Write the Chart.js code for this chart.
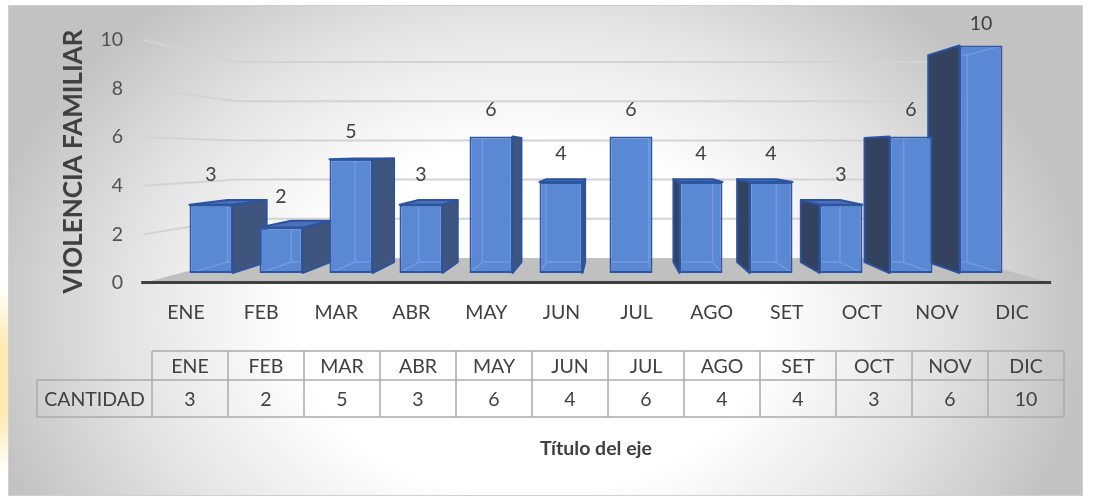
<!DOCTYPE html>
<html>
<head>
<meta charset="utf-8">
<script src="https://cdn.jsdelivr.net/npm/chart.js@4.4.1/dist/chart.umd.min.js"></script>
<style>
html,body{margin:0;padding:0;background:#ffffff;}
#wrap{width:1095px;height:500px;position:relative;}
canvas{display:block;}
</style>
</head>
<body>
<div id="wrap"><canvas id="c" width="1095" height="500"></canvas></div>
<script>
// ---------- DATA ----------
const categories = ['ENE','FEB','MAR','ABR','MAY','JUN','JUL','AGO','SET','OCT','NOV','DIC'];
const cantidad   = [3, 2, 5, 3, 6, 4, 6, 4, 4, 3, 6, 10];
const seriesName = 'CANTIDAD';
const yTickValues = [0, 2, 4, 6, 8, 10];
const yTitle = 'VIOLENCIA FAMILIAR';
const xTitle = 'Título del eje';

// ---------- STYLE / PERSPECTIVE CONSTANTS ----------
const FONT = 'Lato';
const TEXT = '#404040';
const VX = 612, VY = 152;     // vanishing point of the pseudo-3D view
const BAR_DEPTH = 0.09;       // depth of the bar boxes
const WALL_DEPTH = 0.2;       // depth of back wall relative to front plane
const FRONT_MIN = -0.57, FRONT_MAX = 11.52; // front plane extent in x2 units

function toBack(px, py, k){ return [px + k*(VX-px), py + k*(VY-py)]; }
function poly(ctx, pts){ ctx.beginPath(); ctx.moveTo(pts[0][0],pts[0][1]); for(let i=1;i<pts.length;i++) ctx.lineTo(pts[i][0],pts[i][1]); ctx.closePath(); }

const backgroundPlugin = {
  id:'bg',
  beforeDraw(chart){
    const ctx = chart.ctx;
    ctx.save();
    ctx.fillStyle = '#ffffff';
    ctx.fillRect(0,0,chart.width,chart.height);
    const yg = ctx.createLinearGradient(0,285,0,475);
    yg.addColorStop(0,'rgba(252,228,150,0)');
    yg.addColorStop(0.3,'rgba(252,222,130,0.6)');
    yg.addColorStop(0.7,'rgba(252,222,130,0.6)');
    yg.addColorStop(1,'rgba(252,228,150,0)');
    ctx.fillStyle = yg;
    ctx.fillRect(0,285,9,190);
    const cx = 530, cy = 320, rx = 560, ry = 420;
    ctx.save();
    ctx.translate(cx, cy);
    ctx.scale(1, ry/rx);
    const g = ctx.createRadialGradient(0,0,0,0,0,rx);
    g.addColorStop(0,'#ffffff');
    g.addColorStop(0.42,'#ffffff');
    g.addColorStop(0.72,'#e4e4e4');
    g.addColorStop(1,'#c2c2c2');
    ctx.fillStyle = g;
    ctx.fillRect(8-cx, (5-cy)*rx/ry, 1075, 491*rx/ry);
    ctx.restore();
    ctx.strokeStyle = '#d0d0d0';
    ctx.lineWidth = 1;
    ctx.strokeRect(8.5,5.5,1074,490);
    ctx.restore();
  }
};

const threeDPlugin = {
  id:'threeD',
  beforeDatasetsDraw(chart){
    const ctx = chart.ctx;
    const yt = chart.scales.yt, yb = chart.scales.yb, x2 = chart.scales.x2;
    const fl = x2.getPixelForValue(FRONT_MIN), fr = x2.getPixelForValue(FRONT_MAX);
    const f0 = yt.getPixelForValue(0);
    const bl = toBack(fl, f0, WALL_DEPTH)[0], br = toBack(fr, f0, WALL_DEPTH)[0];
    const b0 = yb.getPixelForValue(0);
    ctx.save();
    ctx.strokeStyle = '#d3d3d3';
    ctx.lineWidth = 2;
    yTickValues.forEach(v => {
      if (v === 0) return;
      const fy = yt.getPixelForValue(v), by = yb.getPixelForValue(v);
      ctx.beginPath();
      ctx.moveTo(fl, fy); ctx.lineTo(bl, by); ctx.lineTo(br, by);
      ctx.stroke();
    });
    ctx.fillStyle = '#c0c0c0';
    poly(ctx, [[fl,f0],[bl,b0],[br,b0],[fr,f0]]);
    ctx.fill();
    ctx.strokeStyle = '#3f3f3f';
    ctx.lineWidth = 3;
    ctx.beginPath(); ctx.moveTo(fl-2, f0-0.5); ctx.lineTo(fr, f0-0.5); ctx.stroke();

    const meta = chart.getDatasetMeta(0);
    const bars = meta.data.map(b => b.getProps(['x','y','base','width'], true));
    ctx.lineJoin = 'round';
    bars.forEach(p => {
      const L = p.x - p.width/2, R = p.x + p.width/2, T = p.y, B = p.base;
      let side = null, sideColor = '#40557e';
      if (R < VX) side = [[R,T], toBack(R,T,BAR_DEPTH), toBack(R,B,BAR_DEPTH), [R,B]];
      else if (L > VX) { side = [[L,T], toBack(L,T,BAR_DEPTH), toBack(L,B,BAR_DEPTH), [L,B]]; sideColor = '#33425f'; }
      if (side) {
        poly(ctx, side);
        ctx.fillStyle = sideColor;
        ctx.fill();
        ctx.strokeStyle = '#2c53a0';
        ctx.lineWidth = 2;
        ctx.stroke();
      }
      if (T > VY) {
        const top = [[L,T],[R,T],toBack(R,T,BAR_DEPTH),toBack(L,T,BAR_DEPTH)];
        poly(ctx, top);
        ctx.fillStyle = '#4b70b6';
        ctx.fill();
        ctx.strokeStyle = '#2c53a0';
        ctx.lineWidth = 2;
        ctx.stroke();
      }
    });
    ctx.restore();
  },
  afterDatasetsDraw(chart){
    const ctx = chart.ctx;
    const meta = chart.getDatasetMeta(0);
    ctx.save();
    meta.data.forEach((bar, i) => {
      const p = bar.getProps(['x','y','base','width'], true);
      const L = p.x - p.width/2, R = p.x + p.width/2, T = p.y, B = p.base;
      const bLT = toBack(L,T,BAR_DEPTH), bRT = toBack(R,T,BAR_DEPTH), bLB = toBack(L,B,BAR_DEPTH), bRB = toBack(R,B,BAR_DEPTH);
      ctx.save();
      ctx.beginPath(); ctx.rect(L+2, T+2, R-L-4, B-T-4); ctx.clip();
      ctx.strokeStyle = 'rgba(120,160,230,0.75)';
      ctx.lineWidth = 1.5;
      ctx.beginPath();
      ctx.moveTo(bLT[0],bLT[1]); ctx.lineTo(bLB[0],bLB[1]); ctx.lineTo(bRB[0],bRB[1]); ctx.lineTo(bRT[0],bRT[1]); ctx.lineTo(bLT[0],bLT[1]);
      ctx.moveTo(L,B); ctx.lineTo(bLB[0],bLB[1]);
      ctx.moveTo(R,B); ctx.lineTo(bRB[0],bRB[1]);
      ctx.moveTo(L,T); ctx.lineTo(bLT[0],bLT[1]);
      ctx.moveTo(R,T); ctx.lineTo(bRT[0],bRT[1]);
      ctx.stroke();
      ctx.restore();
      ctx.fillStyle = TEXT;
      ctx.font = '19.5px ' + FONT;
      ctx.textAlign = 'center';
      ctx.textBaseline = 'middle';
      ctx.fillText(String(cantidad[i]), p.x, T - (19.3 + 0.052*T));
    });
    ctx.restore();
  },
  afterDraw(chart){
    const ctx = chart.ctx;
    const xt = chart.scales.xt;
    const base = chart.chartArea.bottom;
    const top = base + 68, mid = base + 97, bot = base + 134;
    const first = xt.getPixelForValue(-0.5), last = xt.getPixelForValue(categories.length - 0.5);
    const headLeft = first - 115;
    ctx.save();
    ctx.strokeStyle = '#ababab';
    ctx.lineWidth = 1.5;
    ctx.beginPath();
    ctx.moveTo(first, top); ctx.lineTo(last, top);
    ctx.moveTo(headLeft, mid); ctx.lineTo(last, mid);
    ctx.moveTo(headLeft, bot); ctx.lineTo(last, bot);
    ctx.moveTo(headLeft, mid); ctx.lineTo(headLeft, bot);
    for (let i = 0; i <= categories.length; i++) {
      const xp = xt.getPixelForValue(i - 0.5);
      ctx.moveTo(xp, top); ctx.lineTo(xp, bot);
    }
    ctx.stroke();
    ctx.fillStyle = TEXT;
    ctx.font = '19.5px ' + FONT;
    ctx.textAlign = 'center';
    ctx.textBaseline = 'middle';
    categories.forEach((c, i) => {
      const xc = xt.getPixelForValue(i);
      ctx.fillText(c, xc, (top + mid)/2 + 1);
      ctx.fillText(String(cantidad[i]), xc, (mid + bot)/2 + 1);
    });
    ctx.fillText(seriesName, (headLeft + first)/2, (mid + bot)/2 + 1);
    ctx.restore();
  }
};

Chart.defaults.font.family = FONT;
const ctx = document.getElementById('c').getContext('2d');
new Chart(ctx, {
  type:'bar',
  data:{
    labels: categories,
    datasets:[{
      label: seriesName,
      data: cantidad,
      xAxisID:'x', yAxisID:'y',
      backgroundColor:'#5b88d3',
      borderColor:'#2d57a5',
      borderWidth:2,
      borderSkipped:false,
      barPercentage:0.614,
      categoryPercentage:1.0
    }]
  },
  options:{
    responsive:false,
    animation:false,
    devicePixelRatio:1,
    layout:{ padding:{ top:40, right:79, bottom:0, left:8 } },
    plugins:{ legend:{display:false}, tooltip:{enabled:false}, title:{display:false} },
    scales:{
      x:{ type:'category', display:false, offset:true, grid:{display:false} },
      y:{ type:'linear', display:false, beginAtZero:false, min:-0.4396, max:10.242 },
      yb:{ type:'linear', display:false, beginAtZero:false, position:'left', min:-1.2755, max:11.122 },
      xt:{ type:'linear', display:false, offset:false, position:'bottom', min:-0.1842, max:10.868 },
      yt:{
        type:'linear', position:'left', min:0, max:10, beginAtZero:false,
        afterFit(s){ s.width = 168; },
        grid:{display:false, drawTicks:true, tickLength:53}, border:{display:false},
        ticks:{ stepSize:2, padding:0, color:'#505050', font:{family:FONT, size:19.5} },
        title:{ display:true, text:yTitle, color:TEXT, font:{family:FONT, size:26, weight:'bold'}, padding:{top:50, bottom:0} }
      },
      x2:{
        type:'linear', position:'bottom', min:-0.133, max:11.053, offset:false,
        afterFit(s){ s.height = 217; },
        grid:{display:false, drawTicks:false, offset:false}, border:{display:false},
        ticks:{ stepSize:1, includeBounds:false, autoSkip:false, maxRotation:0, minRotation:0, padding:18, color:TEXT,
          font:{family:FONT, size:19.5},
          callback:(v) => (Number.isInteger(v) && categories[v] !== undefined) ? categories[v] : '' },
        title:{ display:true, text:xTitle, color:TEXT, font:{family:FONT, size:19.5, weight:'bold'}, padding:{top:0, bottom:40} }
      }
    }
  },
  plugins:[backgroundPlugin, threeDPlugin]
});
</script>
</body>
</html>
